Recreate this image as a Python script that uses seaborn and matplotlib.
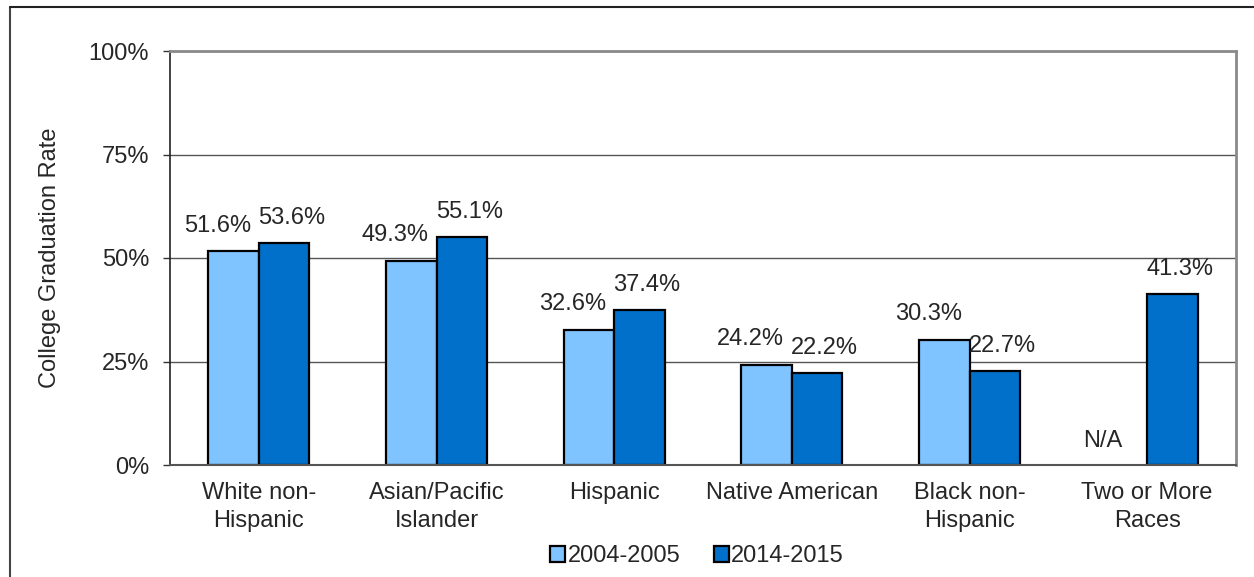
import numpy as np
import pandas as pd
import matplotlib
matplotlib.use("Agg")
import matplotlib.pyplot as plt
from matplotlib.lines import Line2D
import seaborn as sns

categories = ["White non-\nHispanic", "Asian/Pacific\nIslander", "Hispanic",
              "Native American", "Black non-\nHispanic", "Two or More\nRaces"]
years = ["2004-2005", "2014-2015"]
rates_2004 = [51.6, 49.3, 32.6, 24.2, 30.3, np.nan]
rates_2014 = [53.6, 55.1, 37.4, 22.2, 22.7, 41.3]
y_ticks = [0, 25, 50, 75, 100]

df = pd.DataFrame({
    "group": categories * 2,
    "year": [years[0]] * len(categories) + [years[1]] * len(categories),
    "rate": rates_2004 + rates_2014,
})

sns.set_style("white")
plt.rcParams["font.family"] = ["Liberation Sans", "DejaVu Sans"]

FS = 17
light = "#80C4FF"
dark = "#0070CA"

fig = plt.figure(figsize=(12.54, 5.77), dpi=100)
ax = fig.add_axes([170 / 1254, 1 - 465 / 577, (1236 - 170) / 1254, (465 - 51) / 577])

sns.barplot(data=df, x="group", y="rate", hue="year", order=categories,
            hue_order=years, palette=[light, dark], edgecolor="black",
            linewidth=1.6, width=0.57, dodge=True, ax=ax, saturation=1)

ax.set_ylim(0, 100)
ax.set_xlim(-0.5, len(categories) - 0.5)
ax.set_yticks(y_ticks)
ax.set_yticklabels([f"{t}%" for t in y_ticks], fontsize=FS)
ax.yaxis.grid(True, color="#555555", linewidth=1.0)
ax.set_axisbelow(True)
ax.set_xlabel("")
ax.set_ylabel("College Graduation Rate", fontsize=FS, labelpad=20)
ax.set_xticks(range(len(categories)))
ax.set_xticklabels(categories, fontsize=FS, va="top", linespacing=1.35)
ax.tick_params(axis="x", which="major", length=0, pad=12)
ax.set_xticks(np.arange(-0.5, len(categories)), minor=True)
ax.tick_params(axis="x", which="minor", length=5, width=1, color="#333333", direction="out")
ax.tick_params(axis="y", length=5, width=1, color="#333333", direction="out", left=True, pad=10)

for side in ["top", "right"]:
    ax.spines[side].set_visible(True)
    ax.spines[side].set_color("#8a8a8a")
    ax.spines[side].set_linewidth(2)
ax.spines["left"].set_color("#222222")
ax.spines["left"].set_linewidth(1.2)
ax.spines["bottom"].set_color("#555555")
ax.spines["bottom"].set_linewidth(1.5)

bw = 0.285
for i, (a, b) in enumerate(zip(rates_2004, rates_2014)):
    xa = i - bw / 2
    xb = i + bw / 2
    if np.isnan(a):
        ax.annotate("N/A", xy=(xa, 0), xytext=(-14, 17.5), textcoords="offset points",
                    ha="center", va="center", fontsize=FS)
    else:
        ax.annotate(f"{a:.1f}%", xy=(xa, a), xytext=(-11.5, 18.5), textcoords="offset points",
                    ha="center", va="center", fontsize=FS)
    ax.annotate(f"{b:.1f}%", xy=(xb, b), xytext=(5.5, 18), textcoords="offset points",
                ha="center", va="center", fontsize=FS)

handles, labels = ax.get_legend_handles_labels()
ax.legend(handles, labels, loc="center", bbox_to_anchor=(697 / 1254, 1 - 556 / 577),
          bbox_transform=fig.transFigure, ncol=2, frameon=False, fontsize=FS,
          handlelength=0.65, handleheight=0.65, handletextpad=0.1, columnspacing=1.4,
          borderaxespad=0, borderpad=0)

fig.add_artist(Line2D([10 / 1254, 10 / 1254], [0, 1 - 7 / 577], transform=fig.transFigure,
                      color="#444444", linewidth=1.5))
fig.add_artist(Line2D([10 / 1254, 1], [1 - 7 / 577, 1 - 7 / 577], transform=fig.transFigure,
                      color="#222222", linewidth=1.5))

fig.savefig("out.png", dpi=100)
